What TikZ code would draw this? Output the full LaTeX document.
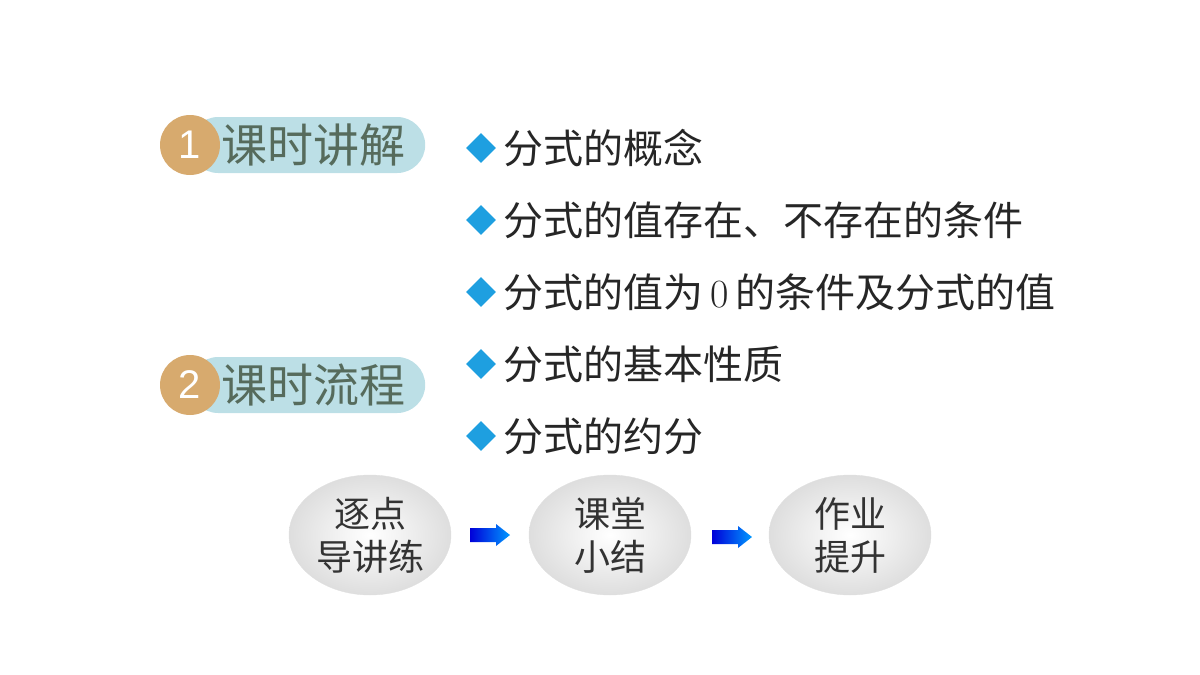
\documentclass[tikz,border=0pt]{standalone}
\usepackage{fontspec}
\newfontfamily\cjk{Noto Sans CJK SC}
\setmainfont{Liberation Sans}
\usetikzlibrary{shapes.geometric,shadows}
\definecolor{pill}{HTML}{BCDFE6}
\definecolor{gold}{HTML}{D7AA6E}
\definecolor{btxt}{HTML}{566B5C}
\definecolor{dia}{HTML}{1E9FE0}
\tikzset{
 pillbox/.style={fill=pill,rounded corners=28pt,minimum width=235pt,minimum height=56pt,anchor=west},
 numc/.style={circle,fill=gold,minimum size=60pt,text=white,font=\fontsize{40}{40}\selectfont},
 btitle/.style={text=btxt,font=\cjk\fontsize{46}{46}\selectfont,anchor=west},
 item/.style={anchor=west,font=\cjk\fontsize{40}{40}\selectfont,text=black!85},
 diam/.style={diamond,fill=dia,minimum size=30pt,inner sep=0pt},
 oval/.style={ellipse,minimum width=162pt,minimum height=120pt,draw=black!12,
   inner color=white,outer color=black!13,align=center,inner sep=0pt,
   font=\cjk\fontsize{36}{43}\selectfont,text=black!80},
 flow/.style={left color=blue!85!black,right color=cyan!60!blue}
}
\newcommand\flowarrow[1]{\shade[flow] ([shift={(-20,-7)}]#1) -- ++(26,0) -- ++(0,-4) -- ++(14,11) -- ++(-14,11) -- ++(0,-4) -- ++(-26,0) -- cycle;}
\begin{document}
\begin{tikzpicture}[x=1pt,y=-1pt]
\useasboundingbox (0,0) rectangle (1200,675);
\node[pillbox] (p1) at (190,145) {};
\node[numc] (n1) at (190,145) {1};
\node[btitle] (t1) at (218,145) {课时讲解};
\node[pillbox] (p2) at (190,385) {};
\node[numc] (n2) at (190,385) {2};
\node[btitle] (t2) at (218,385) {课时流程};
\foreach \y/\t [count=\i] in {148/分式的概念,220/分式的值存在、不存在的条件,292/{分式的值为\,{\fontspec{Latin Modern Roman}0}\,的条件及分式的值},364/分式的基本性质,436/分式的约分}{
 \node[diam] (d\i) at (481,\y) {};
 \node[item] (i\i) at (500,\y) {\t};
}
\node[oval] (e1) at (370,535) {逐点\\导讲练};
\node[oval] (e2) at (610,535) {课堂\\小结};
\node[oval] (e3) at (850,535) {作业\\提升};
\coordinate (a1) at (490,535);
\coordinate (a2) at (732,537);
\flowarrow{a1}
\flowarrow{a2}
\end{tikzpicture}
\end{document}
